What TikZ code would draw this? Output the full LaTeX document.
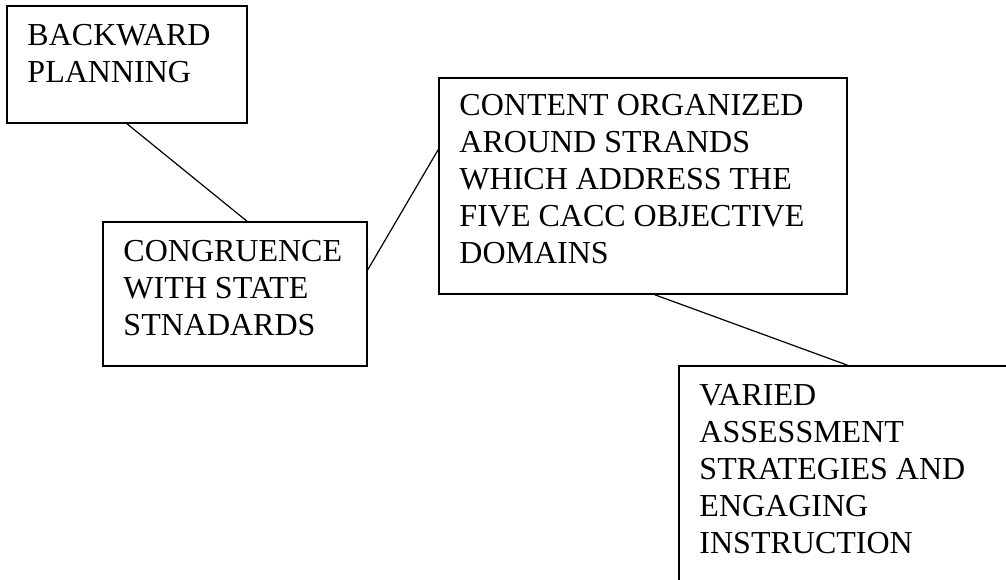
\documentclass[tikz,border=0pt]{standalone}
\usepackage{fontspec}
\setmainfont{Liberation Serif}
\usetikzlibrary{positioning, calc}

\begin{document}
\begin{tikzpicture}[
		x=0.75pt, y=-0.75pt,
		panel/.style={rectangle, draw, line width=1.2pt, inner sep=0pt},
		caption/.style={inner sep=0pt, align=left, font=\fontsize{24}{27.75}\selectfont},
		link/.style={line width=0.9pt}
		]
		
		% page area, the last box runs off the edge
		\clip (0,0) rectangle (1006,580);
		
		% --- Boxes ---
		\node[panel, minimum width=180pt, minimum height=87.75pt] (plan) at (127,64.5) {};
		\node[panel, minimum width=198pt, minimum height=108pt] (congruence) at (235,294) {};
		\node[panel, minimum width=306pt, minimum height=162pt] (content) at (643,186) {};
		\node[panel, minimum width=263.25pt, minimum height=183pt] (varied) at (854.5,488) {};
		
		% --- Texts, top left in each box ---
		\node[caption, below right=14.25pt and 15.75pt of plan.north west] (plan-txt)
		{BACKWARD\\PLANNING};
		\node[caption, below right=14.25pt and 15.75pt of congruence.north west] (congruence-txt)
		{CONGRUENCE\\WITH STATE\\STNADARDS};
		\node[caption, below right=13pt and 15.75pt of content.north west] (content-txt)
		{CONTENT ORGANIZED\\AROUND STRANDS\\WHICH ADDRESS THE\\FIVE CACC OBJECTIVE\\DOMAINS};
		\node[caption, below right=14.25pt and 15.75pt of varied.north west] (varied-txt)
		{VARIED\\ASSESSMENT\\STRATEGIES AND\\ENGAGING\\INSTRUCTION};
		
		% --- Links ---
		\draw[link] (plan.south) -- ($(congruence.north west)!0.545!(congruence.north east)$);
		\draw[link] ($(congruence.north east)!0.333!(congruence.south east)$)
		-- ($(content.north west)!0.333!(content.south west)$);
		\draw[link] ($(content.south west)!0.529!(content.south east)$)
		-- ($(varied.north west)!0.48!(varied.north east)$);
		
	\end{tikzpicture}
\end{document}
